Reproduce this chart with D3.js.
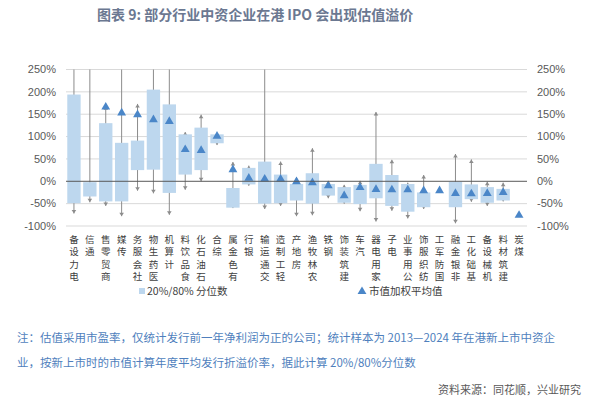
<!DOCTYPE html>
<html>
<head>
<meta charset="utf-8">
<script src="https://cdn.jsdelivr.net/npm/d3@7"></script>
<style>
  body { margin: 0; background: #fff; }
  svg { display: block; font-family: "Noto Sans CJK SC", "Noto Sans", sans-serif; }
</style>
</head>
<body>
<div id="chart"></div>
<script>
// industries (x axis)
const categories = ["电力设备", "通信", "商贸零售", "传媒", "社会服务", "医药生物", "计算机", "食品饮料",
  "石油石化", "综合", "有色金属", "银行", "交通运输", "轻工制造", "房地产", "农林牧渔", "钢铁",
  "建筑装饰", "汽车", "家用电器", "电子", "公用事业", "纺织服饰", "国防军工", "非银金融",
  "基础化工", "机械设备", "建筑材料", "煤炭"];

// 20% / 80% quantiles (box), whisker min / max, market-cap weighted mean, in %
const p20 = [-49, -34, -45, -45, 25, 26, -26, 15, 25, 85, -59, -7, -50, -49, -43, -50, -32,
  -48, -51, -38, -55, -68, -58, null, -58, -40, -48, -43, null];
const p80 = [194, -2, 130, 86, 91, 205, 172, 105, 120, 105, -15, 30, 44, 15, -6, 18, -6,
  -13, -8, 39, 14, -6, -25, null, -1, -7, -13, -17, null];
const minV = [-72, -47, -55, -78, -21, -27, -75, -19, 0, 81, -60, -10, -62, -55, -78, -76, -38,
  -50, -67, -90, -66, -83, -62, null, -94, -46, -55, -45, null];
const maxV = [270, 270, 168, 270, 173, 270, 270, 110, 149, 106, 43, 35, 270, 44, 9, 74, 1,
  -8, 1, 155, 48, -3, 14, null, 61, 49, -1, -3, null];
const avg = [null, null, 166, 153, 149, 138, 134, 71, 69, 101, 26, 7, 5, 5, -1, -3, -10,
  -32, -14, -18, -19, -19, -21, -21, -27, -28, -27, -25, -76];

const yTicks = [-100, -50, 0, 50, 100, 150, 200, 250];

const W = 596, H = 399;
const svg = d3.select("#chart").append("svg").attr("width", W).attr("height", H);

// title
svg.append("text")
  .attr("x", 97).attr("y", 20)
  .attr("font-size", 14).attr("font-weight", 700)
  .attr("fill", "#6b7891")
  .text("图表 9:  部分行业中资企业在港 IPO 会出现估值溢价");

const plotLeft = 66, plotRight = 527, plotTop = 69.5, plotBottom = 226;

const x = d3.scaleBand().domain(categories).range([plotLeft, plotRight]).paddingInner(0.16).paddingOuter(0.08);
const y = d3.scaleLinear().domain([-100, 250]).range([plotBottom, plotTop]);

// gridlines
svg.append("g").selectAll("line")
  .data(yTicks.filter(d => d !== 0))
  .join("line")
  .attr("x1", plotLeft).attr("x2", plotRight)
  .attr("y1", d => y(d)).attr("y2", d => y(d))
  .attr("stroke", "#d9d9d9").attr("stroke-width", 1);

// left / right axis labels
const fmt = d => d + "%";
svg.append("g").selectAll("text")
  .data(yTicks).join("text")
  .attr("x", 56).attr("y", d => y(d)).attr("dy", "0.35em")
  .attr("text-anchor", "end")
  .attr("font-family", "Liberation Sans, Arial, sans-serif")
  .attr("font-size", 11).attr("fill", "#595959")
  .text(fmt);
svg.append("g").selectAll("text")
  .data(yTicks).join("text")
  .attr("x", 537).attr("y", d => y(d)).attr("dy", "0.35em")
  .attr("text-anchor", "start")
  .attr("font-family", "Liberation Sans, Arial, sans-serif")
  .attr("font-size", 11).attr("fill", "#595959")
  .text(fmt);

// clip marks to the plot area
svg.append("clipPath").attr("id", "plotclip")
  .append("rect").attr("x", plotLeft).attr("y", plotTop)
  .attr("width", plotRight - plotLeft).attr("height", plotBottom - plotTop + 6);

const rows = categories.map((c, i) => ({
  cat: c, p20: p20[i], p80: p80[i], min: minV[i], max: maxV[i], avg: avg[i]
}));

const plot = svg.append("g").attr("clip-path", "url(#plotclip)");
const cx = d => x(d.cat) + x.bandwidth() / 2;

// whiskers
const wrows = rows.filter(d => d.min != null);
plot.append("g").selectAll("line")
  .data(wrows).join("line")
  .attr("x1", cx).attr("x2", cx)
  .attr("y1", d => y(d.max)).attr("y2", d => y(d.min))
  .attr("stroke", "#8c8c8c").attr("stroke-width", 1);

// arrow heads on whisker ends
const arrow = (px, py, up) => up
  ? `M${px - 2.3},${py + 3.5}L${px},${py}L${px + 2.3},${py + 3.5}Z`
  : `M${px - 2.3},${py - 3.5}L${px},${py}L${px + 2.3},${py - 3.5}Z`;
plot.append("g").selectAll("path")
  .data(wrows).join("path")
  .attr("d", d => arrow(cx(d), y(d.max), true))
  .attr("fill", "#8c8c8c");
plot.append("g").selectAll("path")
  .data(wrows).join("path")
  .attr("d", d => arrow(cx(d), y(d.min), false))
  .attr("fill", "#8c8c8c");

// 20%/80% boxes
plot.append("g").selectAll("rect")
  .data(rows.filter(d => d.p20 != null))
  .join("rect")
  .attr("x", d => x(d.cat))
  .attr("width", x.bandwidth())
  .attr("y", d => y(d.p80))
  .attr("height", d => y(d.p20) - y(d.p80))
  .attr("fill", "#bdd7ee");

// zero line
svg.append("line")
  .attr("x1", plotLeft).attr("x2", plotRight)
  .attr("y1", y(0)).attr("y2", y(0))
  .attr("stroke", "#595959").attr("stroke-width", 1);

// weighted mean markers
const tri = d3.symbol().type(d3.symbolTriangle).size(34);
plot.append("g").selectAll("path")
  .data(rows.filter(d => d.avg != null))
  .join("path")
  .attr("transform", d => `translate(${cx(d)},${y(d.avg)})`)
  .attr("d", tri)
  .attr("fill", "#4a86c8");

// rotated category labels: upright glyphs stacked bottom-to-top, top aligned
const lab = svg.append("g").selectAll("g")
  .data(categories).join("g")
  .attr("transform", d => `translate(${x(d) + x.bandwidth() / 2},0)`);
lab.selectAll("text")
  .data(d => Array.from(d).reverse())
  .join("text")
  .attr("x", 0)
  .attr("y", (ch, i) => 242.5 + i * 12.5)
  .attr("text-anchor", "middle")
  .attr("font-size", 9.5)
  .attr("fill", "#404040")
  .text(ch => ch);

// legend
svg.append("rect").attr("x", 139).attr("y", 288).attr("width", 6).attr("height", 6).attr("fill", "#bdd7ee");
svg.append("text").attr("x", 147).attr("y", 295)
  .attr("font-size", 10.5).attr("fill", "#404040").text("20%/80% 分位数");
svg.append("path").attr("transform", "translate(362,291.5)").attr("d", tri).attr("fill", "#4a86c8");
svg.append("text").attr("x", 369).attr("y", 295)
  .attr("font-size", 10.5).attr("fill", "#404040").text("市值加权平均值");

// notes
const notes = [
  "注：估值采用市盈率，仅统计发行前一年净利润为正的公司；统计样本为 2013—2024 年在港新上市中资企",
  "业，按新上市时的市值计算年度平均发行折溢价率，据此计算 20%/80%分位数"
];
svg.append("g").selectAll("text")
  .data(notes).join("text")
  .attr("x", 17).attr("y", (d, i) => 342 + i * 25)
  .attr("font-size", 11.5).attr("fill", "#4f7fbd")
  .text(d => d);

svg.append("text")
  .attr("x", 581).attr("y", 394)
  .attr("text-anchor", "end")
  .attr("font-size", 11).attr("fill", "#595959")
  .text("资料来源：同花顺，兴业研究");
</script>
</body>
</html>
